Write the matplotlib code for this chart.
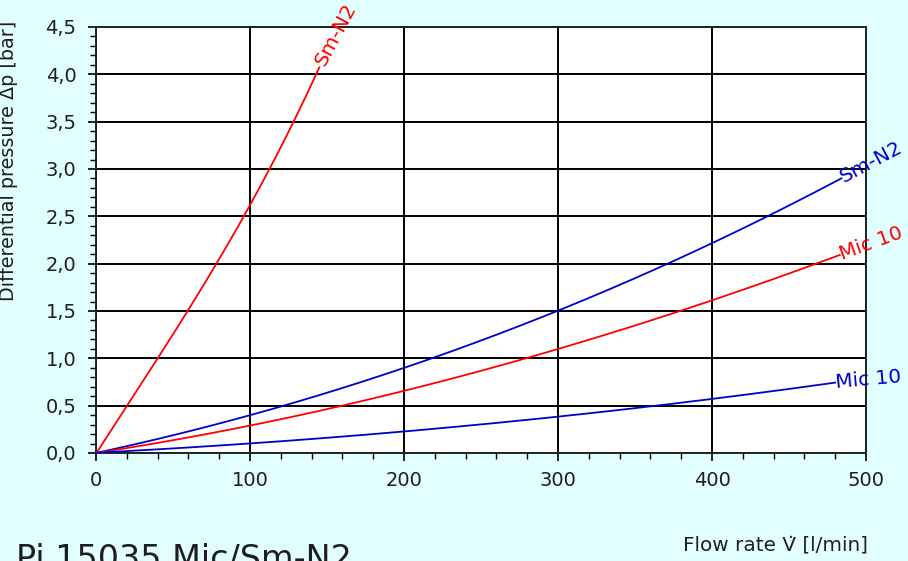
import matplotlib
matplotlib.use("Agg")
import matplotlib.pyplot as plt
import numpy as np
from matplotlib.ticker import MultipleLocator, FuncFormatter

plt.rcParams["font.family"] = ["DejaVu Sans"]

# Data
red_sm_x = [0, 20, 40, 60, 80, 100, 120, 140, 145]
red_sm_y = [0, 0.48, 1.0, 1.52, 2.05, 2.63, 3.22, 3.87, 4.1]

blue_sm_x = [0, 100, 200, 300, 400, 484]
blue_sm_y = [0, 0.40, 0.90, 1.50, 2.22, 2.90]

red_mic_x = [0, 100, 200, 300, 400, 483]
red_mic_y = [0, 0.29, 0.66, 1.09, 1.62, 2.09]

blue_mic_x = [0, 100, 200, 300, 400, 480]
blue_mic_y = [0, 0.11, 0.22, 0.38, 0.58, 0.74]

labels = ["Sm-N2", "Sm-N2", "Mic 10", "Mic 10"]

bg = "#e2ffff"
txt = "#1e1e1e"
fig = plt.figure(figsize=(9.08, 5.61), dpi=100, facecolor=bg)
ax = fig.add_axes([96/908, 1-453/561, (866-96)/908, (453-27)/561])
ax.set_facecolor("white")

def smooth(x, y):
    x = np.asarray(x, float); y = np.asarray(y, float)
    xs = np.linspace(x[0], x[-1], 200)
    c = np.polyfit(x, y, 3)
    ys = np.polyval(c, xs)
    ys[0] = 0
    return xs, ys

series = [
    (red_sm_x, red_sm_y, "#ff0000"),
    (blue_sm_x, blue_sm_y, "#0000cc"),
    (red_mic_x, red_mic_y, "#ff0000"),
    (blue_mic_x, blue_mic_y, "#0000cc"),
]
for x, y, c in series:
    xs, ys = smooth(x, y)
    ax.plot(xs, ys, color=c, lw=1.3, clip_on=False, zorder=3)

ax.set_xlim(0, 500)
ax.set_ylim(0, 4.5)
ax.xaxis.set_major_locator(MultipleLocator(100))
ax.xaxis.set_minor_locator(MultipleLocator(20))
ax.yaxis.set_major_locator(MultipleLocator(0.5))
ax.yaxis.set_minor_locator(MultipleLocator(0.1))
ax.yaxis.set_major_formatter(FuncFormatter(lambda v, p: f"{v:.1f}".replace(".", ",")))
ax.grid(True, which="major", color="black", lw=1.4, zorder=1)
ax.tick_params(which="major", direction="out", length=6, width=1.2, labelsize=14,
               colors="black", labelcolor=txt)
ax.tick_params(which="minor", direction="out", length=4, width=1.0)
ax.tick_params(axis="x", pad=7)
ax.tick_params(axis="y", pad=8)
for s in ax.spines.values():
    s.set_linewidth(1.4)
    s.set_color("#222222")

ax.set_ylabel("Differential pressure \u0394p [bar]", fontsize=13.8, color=txt)
ax.yaxis.set_label_coords(-0.101, 0.685)

# curve labels
kw = dict(fontsize=14.5, ha="left", va="center", rotation_mode="anchor", clip_on=False)
ax.text(145, 4.1, labels[0], color="#ff0000", rotation=62, **kw)
ax.text(484, 2.9, labels[1], color="#0000cc", rotation=28, **kw)
ax.text(483, 2.09, labels[2], color="#ff0000", rotation=20, **kw)
ax.text(480, 0.74, labels[3], color="#0000cc", rotation=5, **kw)

fig.text(868/908, 1-545/561, "Flow rate V\u0307 [l/min]", fontsize=14.4, color=txt,
         ha="right", va="center")
fig.text(16/908, 1-576/561, "Pi 15035 Mic/Sm-N2", fontsize=24, color=txt,
         ha="left", va="bottom")

fig.savefig("out.png", dpi=100, facecolor=bg)
